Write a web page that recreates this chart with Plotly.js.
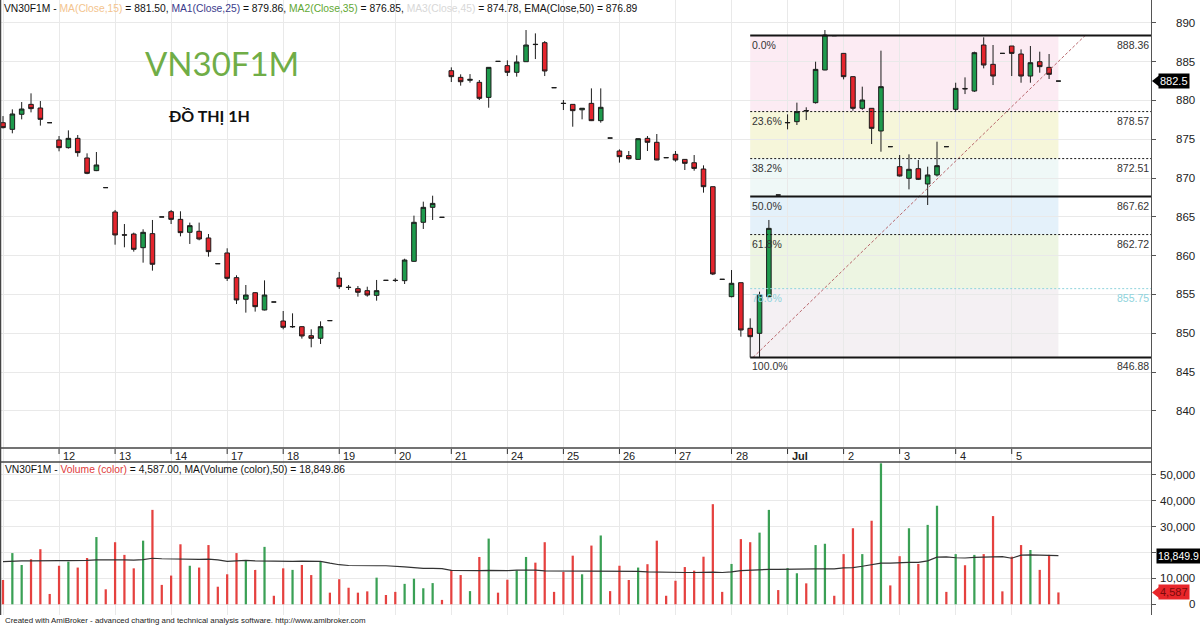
<!DOCTYPE html>
<html><head><meta charset="utf-8">
<script src="https://cdn.plot.ly/plotly-3.0.1.min.js"></script>
<style>html,body{margin:0;padding:0;background:#fff;}#chart{width:1200px;height:625px;}</style>
</head><body><div id="chart"></div>
<script>
// ---------- DATA (hourly bars, 6 per session) ----------
const opens  = [877.14,876.28,878.22,879.50,879.03,877.14, 874.91,873.92,875.12,872.59,870.96,868.77,
  865.63,862.70,862.79,861.03,862.84,864.99, 865.67,864.68,863.01,863.14,862.28,858.97,
  860.35,857.17,854.38,855.23,853.00,854.03, 851.58,850.82,850.85,849.69,849.35,851.63,
  857.12,855.94,855.75,855.49,854.89,856.82, 856.84,856.78,859.27,864.30,866.23,864.94,
  883.84,882.98,882.60,882.34,880.40,885.04, 884.49,883.63,885.00,887.25,887.45,881.65,
  879.65,879.50,878.80,879.63,877.40,875.16, 873.49,872.90,872.41,875.12,874.61,872.63,
  873.06,872.41,871.98,871.17,868.89,856.95, 854.72,856.52,850.64,849.99,854.72,867.82,
  877.12,877.27,878.71,879.72,883.93,888.36, 886.07,883.07,878.99,878.99,876.07,874.05,
  871.47,869.97,871.21,869.24,870.40,874.05, 878.86,881.55,881.22,887.15,884.66,886.07,
  887.02,885.99,883.15,885.00,884.27,882.50];
const highs  = [877.99,878.86,879.80,880.92,879.93,877.14, 875.42,876.15,875.55,873.19,873.36,868.77,
  865.89,864.08,862.97,863.40,864.60,864.99, 865.89,865.72,864.26,864.26,862.79,858.97,
  860.95,857.47,856.22,855.30,856.82,854.03, 852.87,852.57,850.90,850.51,851.54,851.63,
  857.90,856.22,856.09,856.00,856.87,856.82, 857.10,859.61,865.16,866.96,867.73,864.94,
  884.27,883.37,883.40,882.64,884.30,885.04, 885.17,885.82,889.08,888.65,887.66,881.65,
  880.06,879.50,879.00,881.56,881.56,875.16, 873.70,873.49,875.10,875.42,875.68,872.63,
  873.49,872.45,872.97,871.64,868.90,856.95, 858.15,856.52,851.92,855.36,864.60,867.82,
  878.21,879.72,879.12,885.00,889.08,888.36, 886.10,883.10,881.78,879.00,886.42,874.05,
  872.97,873.06,872.33,871.47,874.69,874.05, 882.29,882.98,886.29,888.14,887.15,886.07,
  887.02,886.59,887.02,886.29,885.99,882.50];
const lows   = [876.40,875.77,877.57,878.47,876.76,877.14, 873.45,873.80,872.76,870.50,870.90,868.77,
  861.42,861.08,860.52,859.10,858.07,864.99, 864.08,862.49,861.51,861.98,859.87,858.97,
  856.74,853.77,852.66,852.79,852.95,854.03, 850.51,850.70,849.31,848.19,848.62,851.63,
  855.71,855.58,854.72,854.72,854.20,856.82, 856.60,856.35,859.20,863.44,864.60,864.94,
  882.38,881.91,882.30,880.06,879.07,885.04, 883.15,883.07,885.00,885.34,883.15,881.65,
  878.77,876.62,877.57,877.35,877.14,875.16, 871.99,872.40,872.40,873.49,872.30,872.63,
  872.11,871.04,870.95,868.12,857.50,856.95, 854.63,849.56,846.88,846.88,854.60,867.82,
  876.28,876.84,877.48,879.60,883.90,888.36, 882.72,878.69,878.80,874.39,873.40,874.05,
  870.20,868.55,869.75,866.53,870.20,874.05, 878.56,880.83,881.10,884.14,881.99,886.07,
  883.15,882.29,882.29,883.58,882.77,882.50];
const closes = [876.50,878.26,878.90,878.95,877.57,877.14, 873.92,875.12,873.28,870.61,871.69,868.77,
  862.67,862.65,860.82,863.01,858.89,864.99, 864.68,862.97,863.87,862.15,860.52,858.97,
  857.08,854.29,854.93,853.43,854.93,854.03, 850.77,850.87,849.65,849.35,850.85,851.63,
  856.01,855.90,855.28,854.93,855.49,856.82, 856.80,859.44,864.30,866.23,866.74,864.94,
  883.07,882.42,882.72,880.28,884.27,885.04, 883.63,884.96,887.15,887.21,883.80,881.65,
  879.61,878.69,879.00,877.40,879.12,875.16, 872.76,872.50,875.08,874.61,872.33,872.63,
  872.33,871.90,871.25,868.89,857.64,856.95, 856.44,850.42,849.56,854.93,863.52,867.82,
  877.16,878.56,878.67,884.01,888.44,888.36, 883.07,878.99,880.06,876.41,881.78,874.05,
  870.27,871.13,869.84,870.40,871.60,874.05, 881.56,881.50,886.16,884.57,883.15,886.07,
  886.07,883.15,884.87,884.36,883.37,882.50];
const volumes = [9400,19800,15200,17400,21300,4000, 14900,16500,14200,17900,26000,5800,
  24000,19100,13900,24600,36500,7500, 11100,23200,14900,14200,22900,6800,
  11600,19800,17100,13300,22200,3300, 13900,13300,15200,11300,16500,4500,
  9700,6400,4500,5000,10300,3600, 4800,7900,9900,6200,8200,1700,
  13300,11300,5100,18300,25400,4500, 9500,13100,18300,16100,24000,4800,
  12500,18800,11600,22700,26600,5100, 14900,9400,14200,15500,24600,3300,
  9100,14400,13000,18400,38700,4800, 15600,25200,24000,27700,36500,5500,
  14000,12000,8100,22900,23400,3300, 19400,29400,19400,32300,54500,7300,
  18600,29400,15600,30700,38100,4800, 19400,15100,19100,19400,34100,5000,
  18400,22900,21000,13300,19100,4587];
const volMA50 = [16500,16700,16800,16800,16900,16800, 16900,16900,16900,17000,17200,17100,
  17200,17200,17100,17300,17800,17600, 17500,17600,17500,17400,17500,17200,
  16600,16800,17000,16800,16700,16600, 16600,16600,16700,16600,16600,15900,
  15300,15000,14900,14900,14900,14900, 14800,14500,14200,13900,13900,13800,
  13100,13000,13000,13000,13100,13000, 13000,13200,13300,13200,12900,12900,
  12800,12900,12800,12800,12900,12800, 12800,12700,12700,12500,12400,12300,
  12300,12300,12300,12400,12400,12300, 12500,13000,13200,13300,13500,13500,
  13600,13700,13600,13700,13700,13700, 14100,14200,14700,15400,15900,15900,
  16100,16200,16200,16800,18200,18300, 18000,17900,18100,18200,18400,18400,
  17800,19000,19100,19000,19000,18849.86];
const dayLabels = ['12','13','14','17','18','19','20','21','24','25','26','27','28','Jul','2','3','4','5'];
const barsPerDay = 6;
const priceTicks = [840,845,850,855,860,865,870,875,880,885,890];
const volTicks = [0,10000,20000,30000,40000,50000];
const fibPct = ['0.0%','23.6%','38.2%','50.0%','61.8%','78.6%','100.0%'];
const fibLevels = [888.36,878.57,872.51,867.62,862.72,855.75,846.88];
const fibStartBar = 80, fibEndBar = 113;
const trendX = [80.3,115.85], trendY = [846.88,888.36];
const lastPrice = 882.5;
const lastVol = 4587, lastVolMA = 18849.86;

// ---------- GEOMETRY ----------
const W = 1200, H = 625, plotW = 1151;
const barPx = 9.34, firstBarPx = 3;
const xMin = -firstBarPx / barPx, xMax = (plotW - firstBarPx) / barPx;
const px = v => v / plotW;            // pixel -> paper x
const py = v => 1 - v / H;            // pixel -> paper y
const mainRange = [833.41, 892.95];
const volRange = [-4136, 55005];
const font = 'Liberation Sans, Arial, sans-serif';

const idx = closes.map((_, i) => i);
const dayStarts = dayLabels.map((_, k) => (k + 1) * barsPerDay);
const up = idx.map(i => closes[i] > opens[i]);

const traces = [
  {type:'candlestick', x: idx, open: opens, high: highs, low: lows, close: closes,
   xaxis:'x', yaxis:'y', whiskerwidth:0, hoverinfo:'skip',
   increasing:{line:{color:'#1c1c1c', width:1}, fillcolor:'#1e9a4c'},
   decreasing:{line:{color:'#1c1c1c', width:1}, fillcolor:'#e4252d'}},
  {type:'scatter', mode:'lines', x: trendX, y: trendY, xaxis:'x', yaxis:'y',
   line:{color:'#b9676c', width:1, dash:'3px,2px'}, hoverinfo:'skip'},
  {type:'bar', x: idx, y: volumes, xaxis:'x2', yaxis:'y2', width:0.24,
   marker:{color: up.map(u => u ? '#3aa055' : '#e5413f'), line:{width:0}}, hoverinfo:'skip'},
  {type:'scatter', mode:'lines', x: idx, y: volMA50, xaxis:'x2', yaxis:'y2',
   line:{color:'#333333', width:1.2}, hoverinfo:'skip'}
];

const shapes = [];
const annotations = [];
const zoneColors = ['#fcebf3','#f6f6da','#eff8f7','#e4f1fa','#edf5e2','#f4f0f3'];
for (let k = 0; k < fibLevels.length - 1; k++) {
  shapes.push({type:'rect', xref:'x', yref:'y', x0: fibStartBar, x1: fibEndBar,
    y0: fibLevels[k+1], y1: fibLevels[k], fillcolor: zoneColors[k], line:{width:0}, layer:'below'});
}
fibLevels.forEach((lv, k) => {
  const solid = (k === 0 || k === 3 || k === 6);
  const cyan = (k === 5);
  shapes.push({type:'line', xref:'x', yref:'y', x0: fibStartBar, x1: xMax, y0: lv, y1: lv,
    line:{color: cyan ? '#8fd3dc' : '#151515', width: solid ? 2 : 1, dash: solid ? 'solid' : '2px,2px'}});
  annotations.push({xref:'x', yref:'y', x: fibStartBar, y: lv, xanchor:'left', yanchor:'top',
    yshift:-1, text: fibPct[k], showarrow:false,
    font:{family:font, size:10.5, color: cyan ? '#8fd3dc' : '#333'}});
  annotations.push({xref:'x domain', yref:'y', x: 1, y: lv, xanchor:'right', yanchor:'top',
    yshift:-1, text: lv.toFixed(2), showarrow:false,
    font:{family:font, size:10.5, color: cyan ? '#8fd3dc' : '#333'}});
});
// date strip and borders
shapes.push({type:'line', xref:'paper', yref:'paper', x0:0, x1:1, y0:py(448), y1:py(448), line:{color:'#444', width:1.5}});
shapes.push({type:'line', xref:'paper', yref:'paper', x0:0, x1:1, y0:py(462), y1:py(462), line:{color:'#444', width:1.5}});
shapes.push({type:'line', xref:'paper', yref:'paper', x0:px(0.5), x1:px(0.5), y0:py(0), y1:py(615), line:{color:'#444', width:1.5}});
dayStarts.forEach((b, k) => {
  shapes.push({type:'line', xref:'x', yref:'paper', x0:b, x1:b, y0:py(449), y1:py(454), line:{color:'#333', width:1}});
  annotations.push({xref:'x', yref:'paper', x:b, y:py(455.5), xanchor:'left', yanchor:'middle', xshift:2,
    text: dayLabels[k] === 'Jul' ? '<b>Jul</b>' : dayLabels[k], showarrow:false,
    font:{family:font, size:11, color:'#222'}});
});
// axis tick labels (right-aligned)
priceTicks.forEach(t => annotations.push({xref:'paper', yref:'y', x:px(1197), y:t, xanchor:'right', yanchor:'middle',
  text:String(t), showarrow:false, font:{family:font, size:11.5, color:'#222'}}));
volTicks.forEach(t => annotations.push({xref:'paper', yref:'y2', x:px(1197), y:t, xanchor:'right', yanchor:'middle',
  text:t.toLocaleString('en-US'), showarrow:false, font:{family:font, size:11.5, color:'#222'}}));
// price / volume tags
const tagHalf = 5.5;
const pUnit = (mainRange[1]-mainRange[0]) / 462, vUnit = (volRange[1]-volRange[0]) / 153;
shapes.push({type:'path', xref:'paper', yref:'y', fillcolor:'#000', line:{width:0},
  path:`M ${px(1152)},${lastPrice} L ${px(1159)},${lastPrice+tagHalf*pUnit} L ${px(1159)},${lastPrice-tagHalf*pUnit} Z`});
annotations.push({xref:'paper', yref:'y', x:px(1158), y:lastPrice, xanchor:'left', yanchor:'middle',
  text:String(lastPrice), showarrow:false, bgcolor:'#000', borderpad:1,
  font:{family:font, size:11, color:'#fff'}});
annotations.push({xref:'paper', yref:'y2', x:px(1156), y:lastVolMA, xanchor:'left', yanchor:'middle',
  text:lastVolMA.toLocaleString('en-US',{minimumFractionDigits:1, maximumFractionDigits:1}), showarrow:false, bgcolor:'#000', borderpad:1,
  font:{family:font, size:10.5, color:'#fff'}});
shapes.push({type:'path', xref:'paper', yref:'y2', fillcolor:'#e8262a', line:{width:0},
  path:`M ${px(1152)},${lastVol} L ${px(1159)},${lastVol+tagHalf*vUnit} L ${px(1159)},${lastVol-tagHalf*vUnit} Z`});
annotations.push({xref:'paper', yref:'y2', x:px(1158), y:lastVol, xanchor:'left', yanchor:'middle',
  text:lastVol.toLocaleString('en-US'), showarrow:false, bgcolor:'#e8262a', borderpad:1,
  font:{family:font, size:11, color:'#7a0a0a'}});
// headers and texts
annotations.push({xref:'paper', yref:'paper', x:px(2), y:py(8), xanchor:'left', yanchor:'middle', showarrow:false,
  font:{family:font, size:10.3, color:'#111'},
  text:'VN30F1M - <span style="color:#f3c48e">MA(Close,15)</span> = 881.50, <span style="color:#3b3b8c">MA1(Close,25)</span> = 879.86, <span style="color:#5fa834">MA2(Close,35)</span> = 876.85, <span style="color:#d8d8d8">MA3(Close,45)</span> = 874.78, EMA(Close,50) = 876.89'});
annotations.push({xref:'paper', yref:'paper', x:px(3), y:py(469), xanchor:'left', yanchor:'middle', showarrow:false,
  font:{family:font, size:10.3, color:'#111'},
  text:'VN30F1M - <span style="color:#e03a3a">Volume (color)</span> = 4,587.00, MA(Volume (color),50) = 18,849.86'});
annotations.push({xref:'paper', yref:'paper', x:px(143), y:py(63), xanchor:'left', yanchor:'middle', showarrow:false,
  font:{family:'Lato, Open Sans, sans-serif', size:33, color:'#70ad47'}, text:'VN30F1M'});
annotations.push({xref:'paper', yref:'paper', x:px(166), y:py(116), xanchor:'left', yanchor:'middle', showarrow:false,
  font:{family:'Lato, Open Sans, sans-serif', size:16, color:'#111'}, text:'<b>ĐỒ THỊ 1H</b>'});
annotations.push({xref:'paper', yref:'paper', x:px(3), y:py(620), xanchor:'left', yanchor:'middle', showarrow:false,
  font:{family:font, size:7.9, color:'#222'},
  text:'Created with AmiBroker - advanced charting and technical analysis software. http://www.amibroker.com'});

const grid = '#e9e9e9';
const layout = {
  width:W, height:H, margin:{l:0, r:W-plotW, t:0, b:0}, paper_bgcolor:'#fff', plot_bgcolor:'#fff',
  showlegend:false, font:{family:font},
  xaxis:{domain:[0,1], range:[xMin,xMax], anchor:'y', tickvals:[0].concat(dayStarts), showticklabels:false, ticks:'',
    showgrid:true, gridcolor:grid, zeroline:false, showline:false, rangeslider:{visible:false}, fixedrange:true},
  xaxis2:{domain:[0,1], range:[xMin,xMax], anchor:'y2', matches:'x', tickvals:[0].concat(dayStarts), showticklabels:false, ticks:'',
    showgrid:true, gridcolor:grid, zeroline:false, showline:false, fixedrange:true},
  yaxis:{domain:[py(462),1], range:mainRange, side:'right', anchor:'x', tickvals:priceTicks, showticklabels:false,
    ticks:'outside', ticklen:4, tickcolor:'#555', showgrid:true, gridcolor:grid, zeroline:false,
    showline:true, linecolor:'#555', linewidth:1.3, fixedrange:true},
  yaxis2:{domain:[py(615),py(462)], range:volRange, side:'right', anchor:'x2', tickvals:volTicks, showticklabels:false,
    ticks:'outside', ticklen:4, tickcolor:'#555', showgrid:true, gridcolor:grid, zeroline:false,
    showline:true, linecolor:'#555', linewidth:1.3, fixedrange:true},
  shapes: shapes, annotations: annotations
};
Plotly.newPlot('chart', traces, layout, {staticPlot:true, displayModeBar:false});
</script></body></html>
